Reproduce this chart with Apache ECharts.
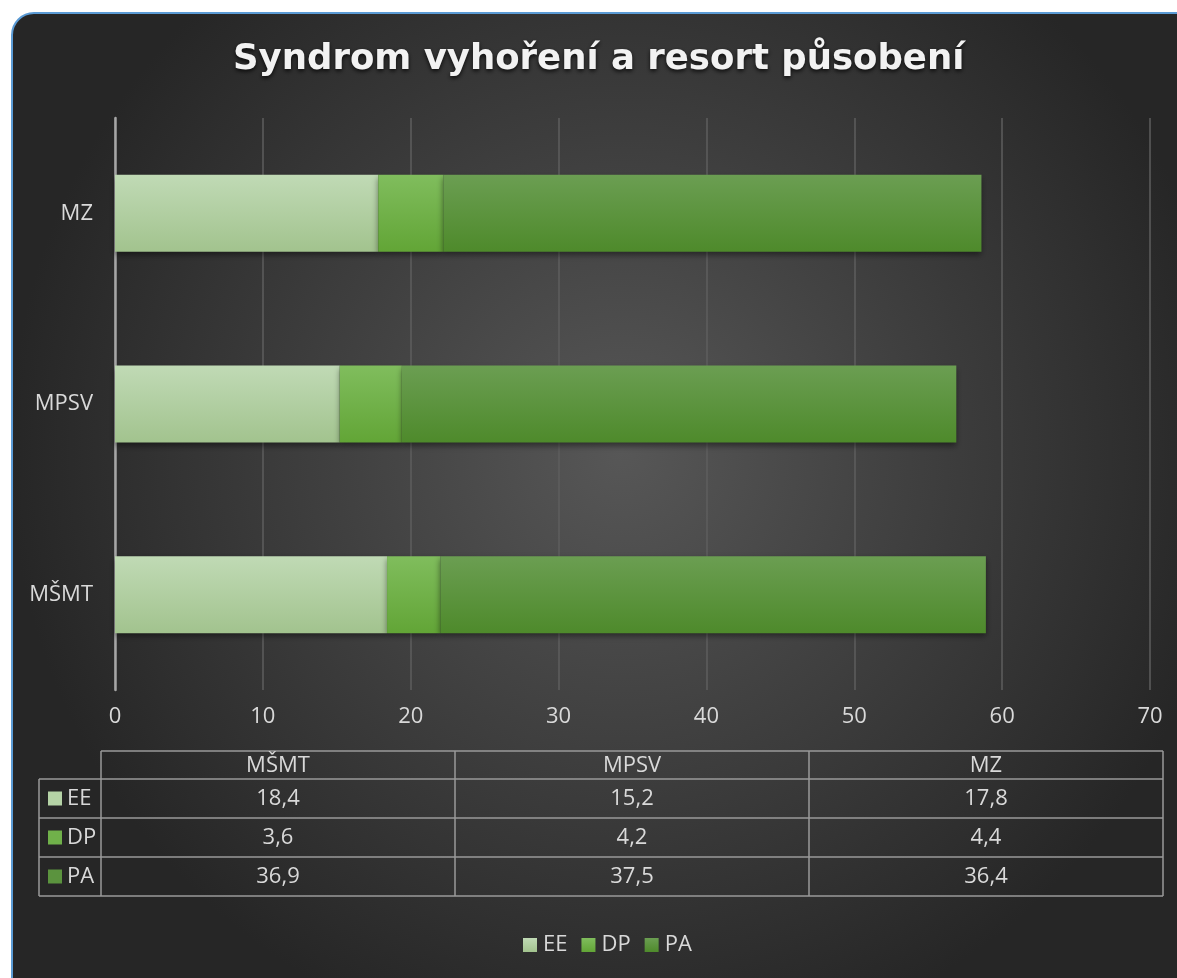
<!DOCTYPE html>
<html>
<head>
<meta charset="utf-8">
<script src="https://cdn.jsdelivr.net/npm/echarts@6/dist/echarts.min.js"></script>
<style>
  html, body { margin: 0; padding: 0; background: #fff; }
  #chart { width: 1177px; height: 978px; }
</style>
</head>
<body>
<div id="chart"></div>
<script>
// data
const categories = ['MŠMT', 'MPSV', 'MZ'];
const seriesNames = ['EE', 'DP', 'PA'];
const valuesEE = [18.4, 15.2, 17.8];
const valuesDP = [3.6, 4.2, 4.4];
const valuesPA = [36.9, 37.5, 36.4];
const xTicks = [0, 10, 20, 30, 40, 50, 60, 70];

const FONT = '"Open Sans", sans-serif';
const TXT = '#d9d9d9';
const FS = 22;

const grad = (top, bottom) => new echarts.graphic.LinearGradient(0, 0, 0, 1, [
  { offset: 0, color: top }, { offset: 1, color: bottom }
]);
const colors = [
  grad('#c0dab5', '#a2c38e'),
  grad('#80bd5d', '#62a536'),
  grad('#6b9e52', '#4e8a2b')
];
const swatch = ['#b5d3a6', '#70b14a', '#5b933e'];
const allValues = [valuesEE, valuesDP, valuesPA];

const fmt = v => String(v).replace('.', ',');

// data table under the chart
function buildTable() {
  const x0 = 39, xL = 101, xR = 1163;
  const yTop = 751, hHead = 28, hRow = 39;
  const colW = (xR - xL) / categories.length;
  const line = '#9a9a9a';
  const els = [];
  const yBottom = yTop + hHead + hRow * seriesNames.length;
  const ln = (x1, y1, x2, y2) => ({ type: 'line', shape: { x1, y1, x2, y2 }, style: { stroke: line, lineWidth: 1.5 } });
  els.push(ln(xL, yTop, xR, yTop));
  for (let i = 0; i <= seriesNames.length; i++) {
    const y = yTop + hHead + hRow * i;
    els.push(ln(x0, y, xR, y));
  }
  els.push(ln(x0, yTop + hHead, x0, yBottom));
  for (let c = 0; c <= categories.length; c++) {
    const x = xL + colW * c;
    els.push(ln(x, yTop, x, yBottom));
  }
  const txt = (x, y, text, align) => ({ type: 'text', x, y,
    style: { text, fill: TXT, font: FS + 'px ' + FONT, align: align || 'center', verticalAlign: 'middle' } });
  categories.forEach((cat, c) => {
    els.push(txt(xL + colW * (c + 0.5), yTop + hHead / 2 + 1, cat));
  });
  seriesNames.forEach((s, r) => {
    const yc = yTop + hHead + hRow * (r + 0.5);
    els.push({ type: 'rect', shape: { x: 48, y: yc - 7, width: 14, height: 14 }, style: { fill: swatch[r] } });
    els.push(txt(67, yc, s, 'left'));
    allValues[r].forEach((v, c) => {
      els.push(txt(xL + colW * (c + 0.5), yc, fmt(v)));
    });
  });
  return els;
}

const chart = echarts.init(document.getElementById('chart'));
chart.setOption({
  animation: false,
  title: {
    text: 'Syndrom vyhoření a resort působení',
    left: 233,
    top: 42,
    padding: 0,
    textStyle: {
      color: '#f2f2f2', fontSize: 35.5, fontWeight: 'bold', fontFamily: '"DejaVu Sans", sans-serif',
      textShadowColor: 'rgba(0,0,0,0.8)', textShadowBlur: 4, textShadowOffsetY: 2
    }
  },
  legend: {
    data: seriesNames,
    bottom: 22,
    left: 523,
    padding: 0,
    icon: 'rect',
    itemWidth: 14,
    itemHeight: 14,
    itemGap: 14,
    textStyle: { color: TXT, fontSize: FS, fontFamily: FONT, padding: [0, 0, 0, 1] }
  },
  grid: { left: 115, right: 27, top: 118, bottom: 288, containLabel: false },
  xAxis: {
    type: 'value',
    min: xTicks[0],
    max: xTicks[xTicks.length - 1],
    interval: 10,
    axisLine: { show: false },
    axisTick: { show: false },
    axisLabel: { color: TXT, fontSize: FS, fontFamily: FONT, margin: 16 },
    splitLine: { lineStyle: { color: '#5e5e5e', width: 1.5 } }
  },
  yAxis: {
    type: 'category',
    data: categories,
    axisLine: { lineStyle: { color: '#a6a6a6', width: 2.5 } },
    axisTick: { show: false },
    axisLabel: { color: TXT, fontSize: FS, fontFamily: FONT, margin: 22 }
  },
  series: seriesNames.map((name, i) => ({
    name,
    type: 'bar',
    stack: 'total',
    barWidth: 77,
    data: allValues[i],
    itemStyle: {
      color: colors[i],
      shadowColor: 'rgba(0,0,0,0.45)', shadowBlur: 6, shadowOffsetY: 3
    }
  })),
  color: swatch,
  graphic: [
    {
      type: 'rect', z: -10, silent: true,
      shape: { x: 12, y: 13, width: 1220, height: 1020, r: 22 },
      style: {
        stroke: '#5b9bd5', lineWidth: 2,
        fill: {
          type: 'radial', x: 0.5, y: 0.43, r: 0.6,
          colorStops: [{ offset: 0, color: '#575757' }, { offset: 1, color: '#262626' }]
        }
      }
    },
    ...buildTable()
  ]
});
</script>
</body>
</html>
